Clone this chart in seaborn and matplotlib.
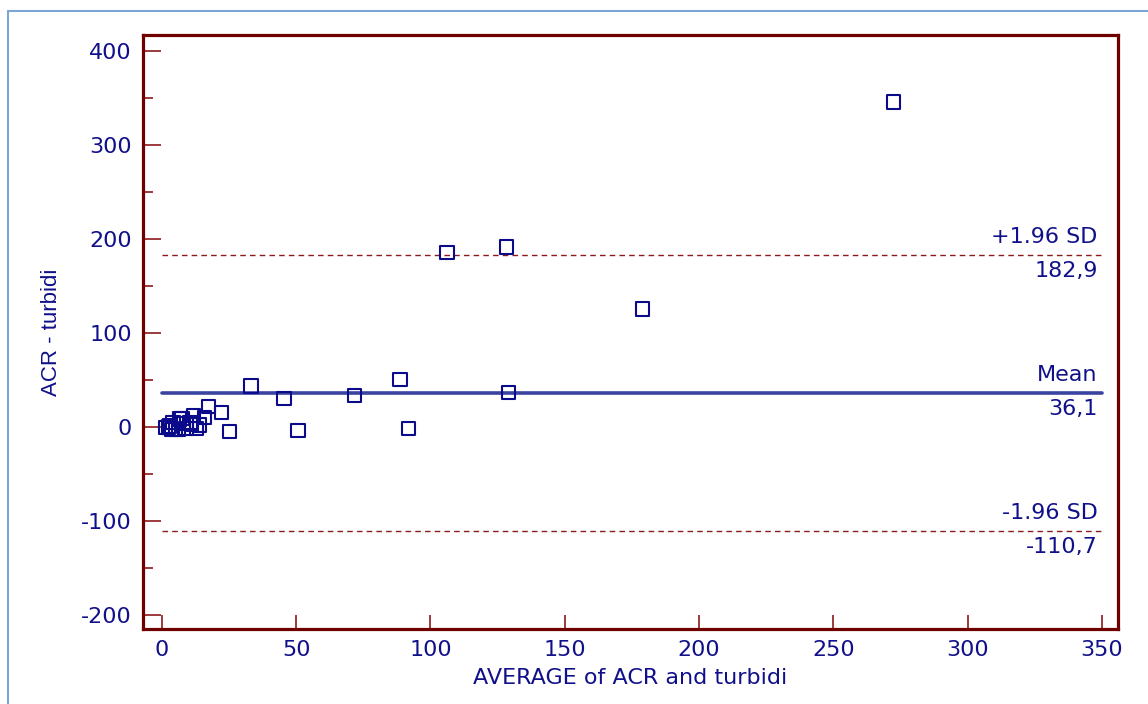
import matplotlib
matplotlib.use("Agg")
import matplotlib.pyplot as plt
import seaborn as sns
import pandas as pd
from matplotlib.ticker import MultipleLocator
from matplotlib.lines import Line2D

# ---- data ----
avg_values = [272.5, 106.2, 128.2, 178.9, 33.2, 45.5, 71.6, 88.7, 129.0, 50.7,
              91.7, 25.1, 22.3, 17.3, 16.0, 11.7, 12.9, 2.4, 4.2, 6.7,
              6.1, 3.5, 7.5, 10.5, 5.0, 1.5, 11.0, 8.0, 3.0, 9.0, 14.0]
diff_values = [345.7, 186.0, 191.5, 125.5, 43.6, 30.5, 33.5, 50.5, 37.0, -3.5,
               -1.5, -4.5, 15.2, 22.0, 10.3, 12.0, -1.4, 0.0, 5.0, 8.5,
               -2.5, -3.0, 9.0, 5.0, -3.0, -1.0, 3.0, 4.0, 1.0, -2.0, 2.0]
mean_diff = 36.1
upper_loa = 182.9
lower_loa = -110.7
x_label = "AVERAGE of ACR and turbidi"
y_label = "ACR - turbidi"
line_labels = ["+1.96 SD", "Mean", "-1.96 SD"]
line_values_text = ["182,9", "36,1", "-110,7"]

df = pd.DataFrame({"avg": avg_values, "diff": diff_values})

sns.set_theme(style="white")
plt.rcParams['font.family'] = ['DejaVu Sans']
plt.rcParams['axes.unicode_minus'] = False

navy = "#10108a"
maroon = "#700000"
dash_col = "#8b1a1a"
mean_col = "#3a44a0"
fs = 16

fig = plt.figure(figsize=(11.48, 7.04), dpi=100)
ax = fig.add_axes([143/1148, 1-629/704, (1118-143)/1148, (629-35)/704])

# outer light-blue frame
fig.add_artist(Line2D([8/1148, 8/1148], [0, 1-11/704], transform=fig.transFigure,
                      color="#7aa6d8", lw=1.5))
fig.add_artist(Line2D([8/1148, 1], [1-11/704, 1-11/704], transform=fig.transFigure,
                      color="#7aa6d8", lw=1.5))

# reference lines
ax.plot([0, 350], [upper_loa, upper_loa], color=dash_col, lw=1.0, ls=(0, (4, 3)), zorder=2)
ax.plot([0, 350], [lower_loa, lower_loa], color=dash_col, lw=1.0, ls=(0, (4, 3)), zorder=2)
ax.plot([0, 350], [mean_diff, mean_diff], color=mean_col, lw=2.6, zorder=2)

sns.scatterplot(data=df, x="avg", y="diff", ax=ax, marker="s", s=90,
                facecolor="none", edgecolor="#0a0a8a", linewidth=1.5, zorder=3)

ax.set_xlim(-7, 356)
ax.set_ylim(-215, 417)

ax.xaxis.set_major_locator(MultipleLocator(50))
ax.yaxis.set_major_locator(MultipleLocator(100))
ax.yaxis.set_minor_locator(MultipleLocator(50))

for s in ax.spines.values():
    s.set_color(maroon)
    s.set_linewidth(2.3)
    s.set_visible(True)

ax.tick_params(axis="both", which="major", direction="in", color=dash_col, width=1.2,
               labelcolor=navy, labelsize=fs, bottom=True, left=True, top=False, right=False)
ax.tick_params(axis="y", which="major", length=13, pad=8)
ax.tick_params(axis="y", which="minor", direction="in", length=7, width=1.2,
               color=dash_col, left=True)
ax.tick_params(axis="x", which="major", length=10, pad=8)

ax.set_xlabel(x_label, color=navy, fontsize=fs, labelpad=6)
ax.set_ylabel(y_label, color=navy, fontsize=16, labelpad=14, family="Liberation Sans")

# annotations
xt = 348.5
for val, lab, txt in zip([upper_loa, mean_diff, lower_loa], line_labels, line_values_text):
    ax.annotate(lab, xy=(xt, val), xytext=(0, 6), textcoords="offset points",
                ha="right", va="bottom", color=navy, fontsize=fs)
    ax.annotate(txt, xy=(xt, val), xytext=(0, -4), textcoords="offset points",
                ha="right", va="top", color=navy, fontsize=fs)

fig.savefig("out.png", dpi=100)
